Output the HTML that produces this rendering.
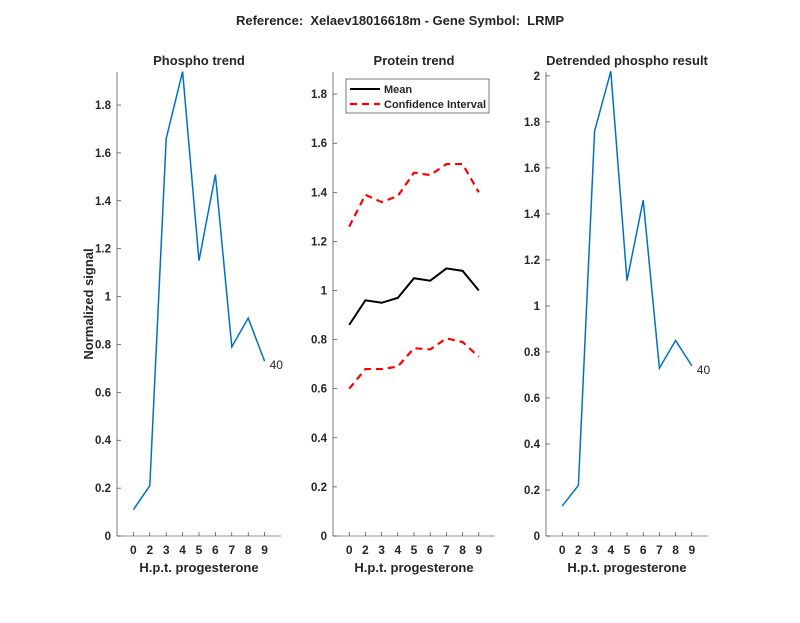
<!DOCTYPE html>
<html><head><meta charset="utf-8"><style>
body{margin:0;background:#fff}
svg text{font-family:"Liberation Sans",Arial,sans-serif;fill:#262626}
</style></head><body>
<svg id="s" width="800" height="618" viewBox="0 0 800 618" xmlns="http://www.w3.org/2000/svg">
<text x="400" y="25" font-size="13" font-weight="bold" text-anchor="middle" fill="#000" style="white-space:pre">Reference:  Xelaev18016618m - Gene Symbol:  LRMP</text>
<text x="93" y="304" font-size="13" font-weight="bold" text-anchor="middle" transform="rotate(-90 93 304)">Normalized signal</text>
</svg>
<script>
var s=document.getElementById('s'),NS='http://www.w3.org/2000/svg';
function el(t,a,txt){var e=document.createElementNS(NS,t);for(var k in a)e.setAttribute(k,a[k]);if(txt!=null)e.textContent=txt;s.appendChild(e);return e;}
var labs=['0','2','3','4','5','6','7','8','9'];
function ax(x0,x1,ymax,ticks,title,series,lab40){
 var y0=536,yt=72,X=function(i){return x0+(x1-x0)*i/10},Y=function(v){return y0-(y0-yt)*v/ymax};
 el('line',{x1:x0,y1:y0,x2:x1,y2:y0,stroke:'#262626','stroke-width':0.6});
 el('line',{x1:x0,y1:y0,x2:x0,y2:yt,stroke:'#262626','stroke-width':0.6});
 ticks.forEach(function(v){var y=Y(v);el('line',{x1:x0,y1:y,x2:x0+4,y2:y,stroke:'#262626','stroke-width':0.6});
  el('text',{x:x0-6,y:y+4,'font-size':11.5,'font-weight':'bold','text-anchor':'end'},String(v));});
 labs.forEach(function(l,i){var x=X(i+1);el('line',{x1:x,y1:y0,x2:x,y2:y0-4,stroke:'#262626','stroke-width':0.6});
  el('text',{x:x,y:y0+18,'font-size':12,'font-weight':'bold','text-anchor':'middle'},l);});
 el('text',{x:(x0+x1)/2,y:572,'font-size':13,'font-weight':'bold','text-anchor':'middle'},'H.p.t. progesterone');
 el('text',{x:(x0+x1)/2,y:65,'font-size':13,'font-weight':'bold','text-anchor':'middle',fill:'#000'},title);
 series.forEach(function(sr){var p=sr.d.map(function(v,i){return X(i+1)+','+Y(v)}).join(' ');
  var a={points:p,fill:'none',stroke:sr.c,'stroke-width':sr.w||1.5};if(sr.dash)a['stroke-dasharray']=sr.dash;el('polyline',a);});
 if(lab40){var v=series[0].d[8];el('text',{x:X(9)+5,y:Y(v)+8,'font-size':12,fill:'#000'},'40');}
}
var L=[0,0.2,0.4,0.6,0.8,1,1.2,1.4,1.6,1.8];
ax(117,281,1.938,L,'Phospho trend',[{d:[0.11,0.21,1.66,1.94,1.15,1.51,0.79,0.91,0.73],c:'#0072BD'}],true);
ax(333,495,1.89,L,'Protein trend',[
 {d:[0.86,0.96,0.95,0.97,1.05,1.04,1.09,1.08,1.00],c:'#000',w:2},
 {d:[1.26,1.39,1.36,1.385,1.48,1.47,1.515,1.515,1.40],c:'#f00',w:2.2,dash:'7,5'},
 {d:[0.60,0.68,0.68,0.69,0.765,0.76,0.805,0.79,0.73],c:'#f00',w:2.2,dash:'7,5'}],false);
ax(546,708,2.017,[0,0.2,0.4,0.6,0.8,1,1.2,1.4,1.6,1.8,2],'Detrended phospho result',[{d:[0.13,0.22,1.76,2.02,1.11,1.46,0.73,0.85,0.74],c:'#0072BD'}],true);
el('rect',{x:346,y:79,width:143,height:34,fill:'#fff',stroke:'#262626','stroke-width':0.6});
el('line',{x1:350,y1:89,x2:380,y2:89,stroke:'#000','stroke-width':2});
el('text',{x:384,y:93,'font-size':11,'font-weight':'bold',fill:'#000'},'Mean');
el('line',{x1:350,y1:104,x2:380,y2:104,stroke:'#f00','stroke-width':2.2,'stroke-dasharray':'7,5'});
el('text',{x:384,y:108,'font-size':11,'font-weight':'bold',fill:'#000'},'Confidence Interval');
</script>
</body></html>
